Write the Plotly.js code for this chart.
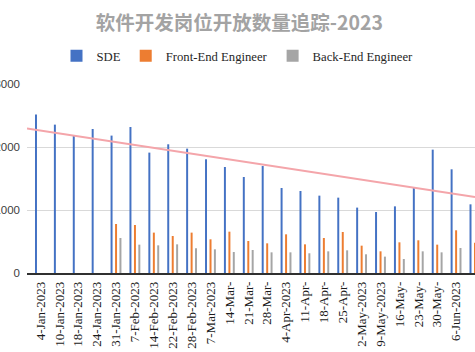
<!DOCTYPE html>
<html>
<head>
<meta charset="utf-8">
<script src="https://cdn.plot.ly/plotly-3.0.1.min.js"></script>
<style>html,body{margin:0;padding:0;background:#fff;}#chart{width:475px;height:352px;}</style>
</head>
<body>
<div id="chart"></div>
<script>
// Category labels (as visible in the reference)
const dates = ["4-Jan-2023","10-Jan-2023","18-Jan-2023","24-Jan-2023","31-Jan-2023","7-Feb-2023",
  "14-Feb-2023","22-Feb-2023","28-Feb-2023","7-Mar-2023","14-Mar-","21-Mar-","28-Mar-","4-Apr-2023",
  "11-Apr-","18-Apr-","25-Apr-","2-May-2023","9-May-2023","16-May-","23-May-","30-May-","6-Jun-2023","13-Jun-2023"];

// Series values
const sde = [2514,2355,2181,2286,2181,2318,1911,2043,1974,1805,1683,1524,1698,1349,1302,1228,1196,1038,968,1058,1355,1958,1646,1090];
const frontEnd = [0,0,0,0,778,762,641,587,641,535,656,508,471,614,455,556,651,434,344,487,519,450,678,482];
const backEnd = [0,0,0,0,556,450,439,455,392,376,333,365,328,328,313,344,360,297,260,222,344,328,397,330];

// Linear trendline of SDE (endpoints)
const trendX = [-0.714, 23.0];
const trendY = [2292, 1208];

const yTicks = [0, 1000, 2000, 3000];

const idx = dates.map((d, i) => i);

const bw = 0.105;
const traces = [
  {type:'bar', name:'SDE', x: idx, y: sde, width: bw, offset: -0.238 - bw/2,
   marker:{color:'#4472C4'}},
  {type:'bar', name:'Front-End Engineer', x: idx, y: frontEnd, width: bw, offset: -bw/2,
   marker:{color:'#ED7D31'}},
  {type:'bar', name:'Back-End Engineer', x: idx, y: backEnd, width: bw, offset: 0.232 - bw/2,
   marker:{color:'#A5A5A5'}},
  {type:'scatter', mode:'lines', x: trendX, y: trendY, showlegend:false, hoverinfo:'skip',
   line:{color:'#F4A5AA', width:2}}
];

const layout = {
  width: 475, height: 352,
  margin: {l:27, r:0, t:84, b:79, pad:0},
  paper_bgcolor:'#ffffff', plot_bgcolor:'#ffffff',
  barmode:'overlay',
  showlegend:true,
  title: {
    text: '软件开发岗位开放数量追踪-2023',
    font: {family:'"Noto Sans CJK SC", sans-serif', size:19.5, color:'#a3a3a3', weight:'bold'},
    xref:'container', x:0.504, xanchor:'center',
    yref:'container', y:0.933, yanchor:'middle'
  },
  legend: {
    orientation:'h', xref:'container', yref:'container',
    x:0.5, xanchor:'center', y:0.841, yanchor:'middle',
    font:{family:'"Liberation Serif", "Times New Roman", serif', size:12.7, color:'#262626'},
    itemclick:false, traceorder:'normal'
  },
  xaxis: {
    type:'linear', range:[-0.714, 23.0], autorange:false,
    tickmode:'array', tickvals: idx, ticktext: dates,
    tickangle:-90, ticks:'', showgrid:false, zeroline:false,
    showline:true, linecolor:'#303030', linewidth:1.5,
    tickfont:{family:'"Liberation Serif", "Times New Roman", serif', size:13, color:'#1a1a1a'},
    automargin:false, ticklabelstandoff:2
  },
  yaxis: {
    range:[0, 3000], autorange:false,
    tickmode:'array', tickvals: yTicks,
    showgrid:true, gridcolor:'#d9d9d9', gridwidth:1,
    zeroline:false, showline:false, ticks:'',
    tickfont:{family:'"Liberation Sans", Arial, sans-serif', size:11.5, color:'#404040'},
    automargin:false, ticklabelstandoff:6
  }
};

Plotly.newPlot('chart', traces, layout, {staticPlot:true, displayModeBar:false});
</script>
</body>
</html>
